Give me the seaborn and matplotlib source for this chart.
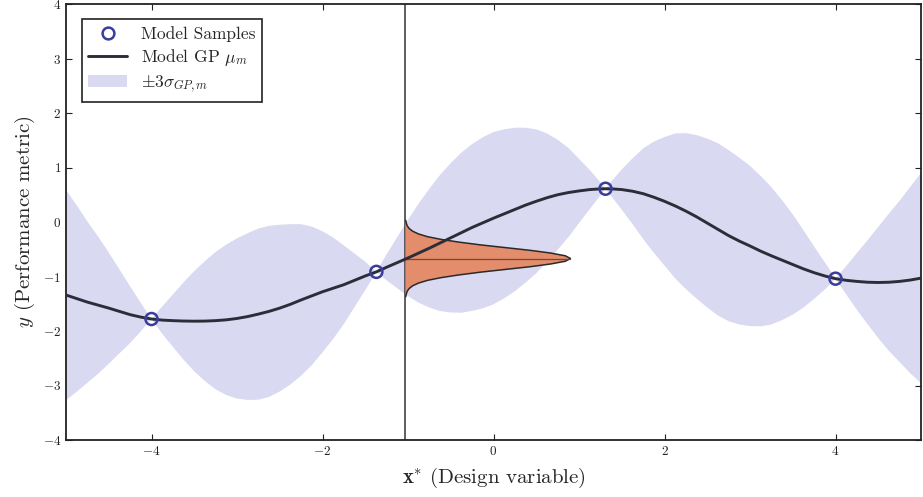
import numpy as np
import pandas as pd
import seaborn as sns
import matplotlib
matplotlib.use("Agg")
import matplotlib.pyplot as plt
from matplotlib.lines import Line2D
from matplotlib.patches import Patch

# ---------------- data ----------------
sample_x = [-4.0, -1.37, 1.31, 4.0]
sample_y = [-1.78, -0.915, 0.61, -1.04]

grid_x = [-5.0, -4.875, -4.75, -4.625, -4.5, -4.375, -4.25, -4.125, -4.0,
          -3.875, -3.75, -3.625, -3.5, -3.375, -3.25, -3.125, -3.0,
          -2.875, -2.75, -2.625, -2.5, -2.375, -2.25, -2.125, -2.0,
          -1.875, -1.75, -1.625, -1.5, -1.37, -1.25, -1.125, -1.0,
          -0.875, -0.75, -0.625, -0.5, -0.375, -0.25, -0.125, 0.0,
          0.125, 0.25, 0.375, 0.5, 0.625, 0.75, 0.875, 1.0,
          1.125, 1.25, 1.31, 1.375, 1.5, 1.625, 1.75, 1.875, 2.0,
          2.125, 2.25, 2.375, 2.5, 2.625, 2.75, 2.875, 3.0,
          3.125, 3.25, 3.375, 3.5, 3.625, 3.75, 3.875, 4.0,
          4.125, 4.25, 4.375, 4.5, 4.625, 4.75, 4.875, 5.0]
gp_mean = [-1.34, -1.405, -1.47, -1.525, -1.58, -1.64, -1.70, -1.745, -1.78,
           -1.80, -1.81, -1.817, -1.82, -1.818, -1.81, -1.795, -1.77,
           -1.735, -1.69, -1.64, -1.58, -1.51, -1.43, -1.355, -1.28,
           -1.215, -1.15, -1.07, -0.99, -0.915, -0.83, -0.745, -0.66,
           -0.57, -0.48, -0.385, -0.29, -0.195, -0.10, -0.015, 0.07,
           0.15, 0.23, 0.31, 0.38, 0.445, 0.50, 0.54, 0.57,
           0.595, 0.608, 0.61, 0.609, 0.595, 0.565, 0.52, 0.455, 0.38,
           0.295, 0.20, 0.095, -0.02, -0.135, -0.25, -0.35, -0.44,
           -0.535, -0.62, -0.70, -0.78, -0.86, -0.93, -0.99, -1.04,
           -1.07, -1.09, -1.105, -1.11, -1.105, -1.09, -1.065, -1.03]
gp_3sigma = [1.93, 1.71, 1.48, 1.26, 1.02, 0.77, 0.52, 0.26, 0.0,
             0.25, 0.48, 0.71, 0.92, 1.10, 1.26, 1.38, 1.47,
             1.53, 1.57, 1.57, 1.53, 1.47, 1.39, 1.27, 1.11,
             0.93, 0.72, 0.49, 0.26, 0.0, 0.24, 0.47, 0.70,
             0.91, 1.09, 1.25, 1.37, 1.47, 1.53, 1.57, 1.58,
             1.55, 1.50, 1.42, 1.32, 1.18, 1.01, 0.82, 0.59,
             0.36, 0.12, 0.0, 0.13, 0.37, 0.60, 0.83, 1.02, 1.18,
             1.33, 1.43, 1.50, 1.55, 1.58, 1.57, 1.53, 1.47,
             1.38, 1.26, 1.10, 0.92, 0.71, 0.48, 0.25, 0.0,
             0.26, 0.52, 0.77, 1.02, 1.26, 1.48, 1.71, 1.93]

x_star = -1.03
pdf_center = -0.67
pdf_dy = [-0.7, -0.65, -0.6, -0.55, -0.5, -0.45, -0.4, -0.35, -0.3, -0.25, -0.2,
          -0.15, -0.1, -0.05, 0.0, 0.05, 0.1, 0.15, 0.2, 0.25, 0.3, 0.35, 0.4,
          0.45, 0.5, 0.55, 0.6, 0.65, 0.7]
pdf_width = [0.004, 0.010, 0.021, 0.044, 0.085, 0.154, 0.26, 0.42, 0.63, 0.88, 1.17,
             1.46, 1.70, 1.87, 1.93, 1.87, 1.70, 1.46, 1.17, 0.88, 0.63, 0.42, 0.26,
             0.154, 0.085, 0.044, 0.021, 0.010, 0.004]

x_ticks = [-4, -2, 0, 2, 4]
y_ticks = [-4, -3, -2, -1, 0, 1, 2, 3, 4]

# ---------------- style ----------------
sns.set_style("ticks")
plt.rcParams.update({
    "font.family": ["cmr10", "DejaVu Serif"],
    "mathtext.fontset": "cm",
    "axes.formatter.use_mathtext": True,
    "axes.unicode_minus": True,
    "xtick.direction": "in",
    "ytick.direction": "in",
    "xtick.top": True,
    "ytick.right": True,
})

df = pd.DataFrame({"x": grid_x, "mu": gp_mean, "hw": gp_3sigma})
df["lo"] = df["mu"] - df["hw"]
df["hi"] = df["mu"] + df["hw"]
samples = pd.DataFrame({"x": sample_x, "y": sample_y})

fig = plt.figure(figsize=(9.23, 4.97), dpi=100)
ax = fig.add_axes([66 / 923, 57 / 497, (921 - 66) / 923, 436 / 497])

band_color = "#d9d9f1"
ax.fill_between(df["x"], df["lo"], df["hi"], facecolor=band_color,
                edgecolor="none", zorder=1)

ax.axvline(x_star, color="#333333", lw=1.1, zorder=2)

ys = [pdf_center + d for d in pdf_dy]
xs = [x_star + w for w in pdf_width]
ax.fill_betweenx(ys, x_star, xs, facecolor="#e38d6c", edgecolor="none", zorder=3)
ax.plot(xs, ys, color="#2a2a2a", lw=1.1, zorder=4)
ax.plot([x_star, x_star + max(pdf_width)], [pdf_center, pdf_center],
        color="#6e4a3c", lw=0.9, zorder=4)

sns.lineplot(data=df, x="x", y="mu", ax=ax, color="#2b2e38", lw=2.1,
             zorder=5, legend=False, sort=False)
sns.scatterplot(data=samples, x="x", y="y", ax=ax, s=75, marker="o",
                facecolor="none", edgecolor="#3a3d9c", linewidth=1.8,
                zorder=6, legend=False)

ax.set_xlim(-5, 5)
ax.set_ylim(-4, 4)
ax.set_xticks(x_ticks)
ax.set_yticks(y_ticks)
ax.tick_params(labelsize=9.5, length=4, width=0.8, colors="#222222")
for sp in ax.spines.values():
    sp.set_linewidth(1.3)
    sp.set_color("#222222")
    sp.set_visible(True)

ax.set_xlabel(r"$\mathbf{x}^{*}$ (Design variable)", fontsize=15, labelpad=6)
ax.set_ylabel(r"$y$ (Performance metric)", fontsize=15, labelpad=4)

handles = [
    Line2D([], [], ls="none", marker="o", markersize=8.5, markerfacecolor="none",
           markeredgecolor="#3a3d9c", markeredgewidth=1.8),
    Line2D([], [], color="#2b2e38", lw=2.1),
    Patch(facecolor=band_color, edgecolor="none"),
]
labels = ["Model Samples", r"Model GP $\mu_m$", r"$\pm3\sigma_{GP,m}$"]
leg = ax.legend(handles, labels, loc="upper left", fontsize=12.5, frameon=True,
                fancybox=False, edgecolor="#222222", framealpha=1,
                borderpad=0.4, labelspacing=0.3, handlelength=2.2,
                bbox_to_anchor=(0.008, 0.985))
leg.get_frame().set_linewidth(1.2)

fig.savefig("out.png", dpi=100)
